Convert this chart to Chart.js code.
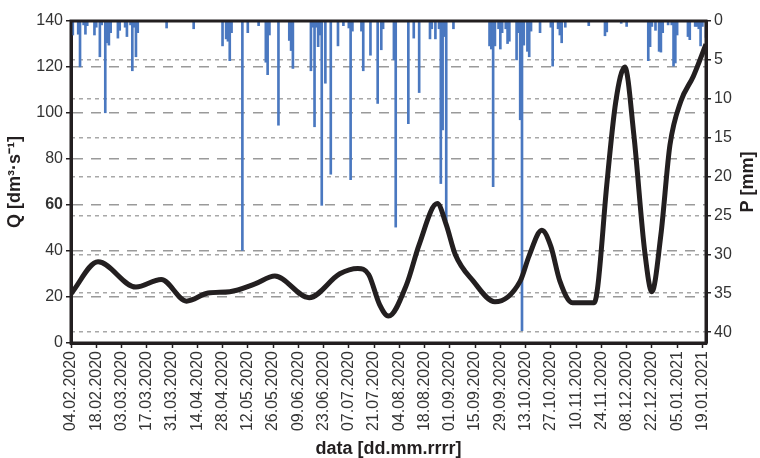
<!DOCTYPE html>
<html>
<head>
<meta charset="utf-8">
<script src="https://cdn.jsdelivr.net/npm/chart.js@4"></script>
<style>
html,body{margin:0;padding:0;background:#ffffff;}
#wrap{width:760px;height:458px;}
</style>
</head>
<body>
<div id="wrap"><canvas id="c" width="760" height="458"></canvas></div>
<script>
// x axis: days counted from 04.02.2020
const tickDays = [0,14,28,42,56,70,84,98,112,126,140,154,168,182,196,210,224,238,252,266,280,294,308,322,336,350];
const tickLabels = ['04.02.2020','18.02.2020','03.03.2020','17.03.2020','31.03.2020','14.04.2020','28.04.2020',
  '12.05.2020','26.05.2020','09.06.2020','23.06.2020','07.07.2020','21.07.2020','04.08.2020','18.08.2020',
  '01.09.2020','15.09.2020','29.09.2020','13.10.2020','27.10.2020','10.11.2020','24.11.2020','08.12.2020',
  '22.12.2020','05.01.2021','19.01.2021'];
const qTicks = [0,20,40,60,80,100,120,140];
const pTicks = [0,5,10,15,20,25,30,35,40];

// daily precipitation P [mm]
const rainDays = [1,4,5,7,8,9,13,14,16,17,19,20,21,22,26,27,30,31,33,34,35,36,37,53,68,84,86,87,88,89,
  95,98,104,108,109,110,115,121,122,123,133,134,135,136,137,138,139,141,144,148,151,154,155,156,161,162,
  166,170,172,173,179,180,187,190,193,199,200,202,204,205,206,207,208,212,232,233,234,235,237,238,239,
  241,242,243,247,248,249,250,251,253,254,255,260,266,267,270,271,272,274,287,296,297,305,308,320,321,
  322,324,326,327,328,331,333,334,335,336,342,343,346,347,348,349,350,352];
const rainMm = [1.8,1.7,5.9,0.5,1.7,0.6,1.8,0.8,4.6,0.5,11.8,2.8,3.1,1.5,2.2,1.2,0.8,2.0,0.5,6.4,0.8,4.6,1.5,0.9,1.0,3.2,2.3,2.6,5.1,1.5,
  29.5,1.5,0.6,5.3,6.9,1.8,13.4,2.5,3.8,6.1,6.4,0.8,13.6,0.8,3.3,1.8,23.7,8.0,19.7,3.2,0.6,0.9,20.4,1.3,1.3,6.4,
  4.4,10.6,3.7,1.0,5.0,26.5,13.2,2.2,9.2,2.3,1.0,2.3,1.0,20.9,14.0,2.0,25.7,1.0,3.2,3.6,21.3,3.2,1.0,3.6,1.5,
  1.0,2.9,2.6,5.0,1.5,12.7,39.8,3.1,3.9,4.6,1.3,1.5,0.8,5.8,1.0,1.8,2.8,0.8,0.6,1.9,1.4,0.3,0.7,5.1,3.3,
  0.7,1.2,3.9,4.0,1.5,0.5,0.5,5.8,5.4,1.8,2.0,2.4,0.7,0.7,1.0,3.2,0.7,2.1];

// discharge Q [dm3/s]
const flowDays = [0,15,36,50,64,76,88,102,113,132,149,159,165,171,176,186,193,203,208,213,223,235,249,254,261,266,271,278,290,292,297,302,307,312,318,322,327,332,338,345,352];
const flowQ = [21.4,35.3,24.3,27.6,18.2,21.7,22.3,25.7,29.1,19.7,30.1,32.4,29.8,16.8,11.7,25.4,42.8,60.6,51.5,38.5,26.9,17.9,26.9,38.0,49.0,42.0,26.9,17.5,17.5,24.5,68.8,105.0,120.0,90.5,40.0,22.3,47.1,86.0,105.0,116.0,129.9];

const FAM = "'Liberation Sans',Arial,Helvetica,sans-serif";
const INK = '#231f20';

const rainData = rainDays.map((d,i)=>({x:d,y:rainMm[i]}));
const flowData = flowDays.map((d,i)=>({x:d,y:flowQ[i]}));

const framePlugin = {
  id:'frame',
  afterDatasetsDraw(chart){
    const {ctx, chartArea:a} = chart;
    ctx.save();
    ctx.strokeStyle = INK; ctx.lineWidth = 3;
    ctx.strokeRect(a.left, a.top, a.right-a.left, a.bottom-a.top);
    ctx.restore();
  },
  afterDraw(chart){
    const s = chart.scales.yP, a = chart.chartArea, ctx = chart.ctx;
    ctx.save();
    ctx.translate(s.right - 12, (a.top + a.bottom)/2);
    ctx.rotate(-Math.PI/2);
    ctx.font = "bold 18px " + FAM;
    ctx.fillStyle = INK;
    ctx.textAlign = 'center'; ctx.textBaseline = 'middle';
    ctx.fillText('P [mm]', 0, 0);
    ctx.restore();
  }
};

new Chart(document.getElementById('c'), {
  type:'bar',
  data:{
    datasets:[
      {type:'line', label:'Q', data:flowData, xAxisID:'x', yAxisID:'yQ', borderColor:INK, borderWidth:5,
       pointRadius:0, fill:false, cubicInterpolationMode:'monotone', order:0},
      {type:'bar', label:'P', data:rainData, xAxisID:'x', yAxisID:'yP', backgroundColor:'#4a78c0',
       borderWidth:0, barThickness:2, order:1}
    ]
  },
  options:{
    responsive:false, animation:false, devicePixelRatio:1,
    layout:{padding:{top:21,left:0,right:0,bottom:0}},
    plugins:{legend:{display:false}, tooltip:{enabled:false}},
    scales:{
      x:{
        type:'linear', position:'bottom', min:0, max:352, offset:false,
        afterBuildTicks:(s)=>{ s.ticks = tickDays.map(v=>({value:v})); },
        afterFit:(s)=>{ s.height = 115; },
        ticks:{autoSkip:false, minRotation:90, maxRotation:90, padding:3, color:'#333',
          font:{family:FAM, size:16},
          callback:(v,i)=>tickLabels[i]},
        grid:{offset:false, drawOnChartArea:false, tickLength:5, tickColor:INK, tickWidth:1.5},
        border:{color:INK, width:3},
        title:{display:true, text:'data [dd.mm.rrrr]', color:INK, padding:{top:0,bottom:0},
          font:{family:FAM, size:18, weight:'bold', lineHeight:1}}
      },
      yQ:{
        type:'linear', position:'left', min:0, max:140,
        afterBuildTicks:(s)=>{ s.ticks = qTicks.map(v=>({value:v})); },
        afterFit:(s)=>{ s.width = 71; },
        ticks:{padding:3, color:'#333',
          font:(c)=>({family:FAM, size:16, weight:(c.tick && c.tick.value===60)?'bold':'normal'})},
        grid:{color:'#9a9a9a', lineWidth:1.5, tickLength:5, tickColor:INK, tickWidth:1.5},
        border:{color:INK, width:3, dash:[10,8]},
        title:{display:true, text:'Q [dm³·s⁻¹]', color:INK, padding:{top:6,bottom:0},
          font:{family:FAM, size:18, weight:'bold', lineHeight:1}}
      },
      yP:{
        type:'linear', position:'right', reverse:true, min:0, max:41.4,
        afterBuildTicks:(s)=>{ s.ticks = pTicks.map(v=>({value:v})); },
        afterFit:(s)=>{ s.width = 54; },
        ticks:{padding:3, color:'#333', font:{family:FAM, size:16}},
        grid:{color:'#a8a8a8', lineWidth:1.5, tickLength:5, tickColor:INK, tickWidth:1.5},
        border:{color:INK, width:3, dash:[4,4]},
        title:{display:false}
      }
    }
  },
  plugins:[framePlugin]
});
</script>
</body>
</html>
